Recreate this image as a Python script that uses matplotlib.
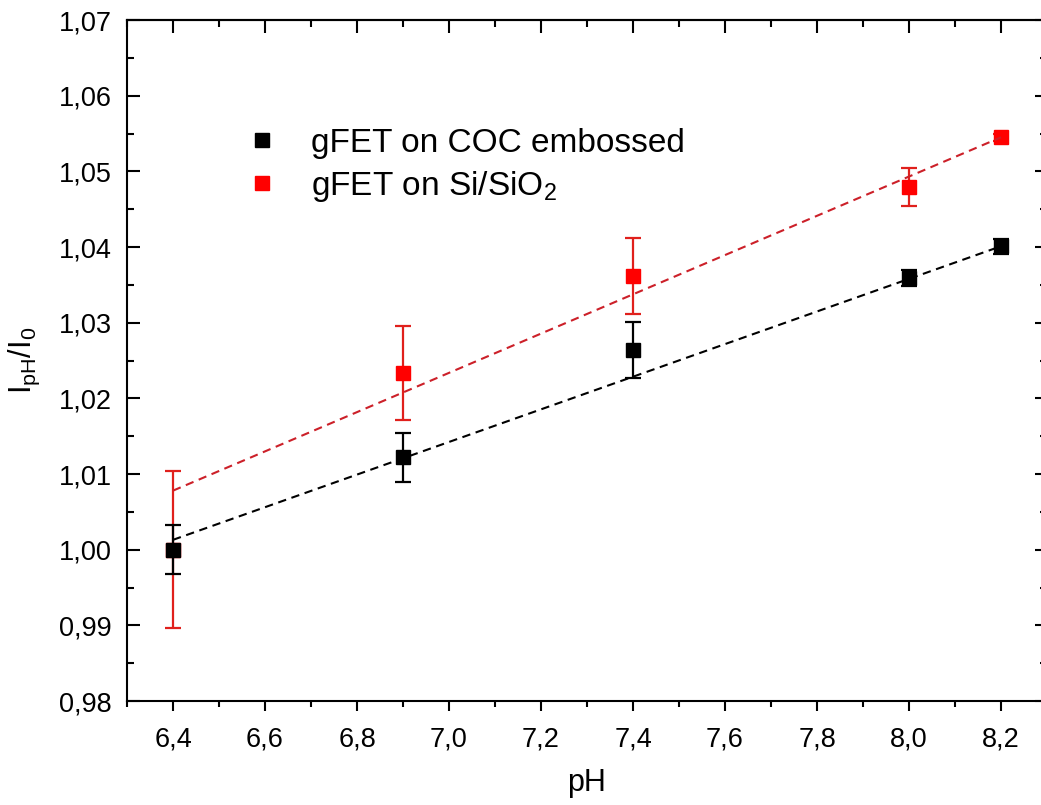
import numpy as np
import matplotlib
matplotlib.use('Agg')
import matplotlib.pyplot as plt
from matplotlib.ticker import MultipleLocator
from matplotlib.lines import Line2D

plt.rcParams['font.family'] = ['Liberation Sans', 'DejaVu Sans']
plt.rcParams['mathtext.fontset'] = 'custom'
plt.rcParams['mathtext.rm'] = 'Liberation Sans'

# data
ph = [6.4, 6.9, 7.4, 8.0, 8.2]
coc = [1.0000, 1.0122, 1.0264, 1.0359, 1.0401]
coc_err = [0.0032, 0.0032, 0.0037, 0.0010, 0.0010]
si = [1.0000, 1.0234, 1.0362, 1.0479, 1.0545]
si_err = [0.0104, 0.0062, 0.0050, 0.0025, 0.0005]
# linear fit end values (at pH 6.4 and 8.2)
fit_x = [6.4, 8.2]
fit_coc = [1.0013, 1.0401]
fit_si = [1.0078, 1.0545]
labels = ['gFET on COC embossed', 'gFET on Si/SiO$_2$']

fig = plt.figure(figsize=(10.41, 8.05), dpi=100)
ax = fig.add_axes([127/1041, 1 - 701/805, 920/1041, 681/805])

# red series first, black on top
ax.errorbar(ph, si, yerr=si_err, fmt='s', color='#ff0000', ecolor='#e0201c',
            ms=9.5, elinewidth=1.6, capsize=5.5, capthick=1.6, zorder=3)
ax.errorbar(ph, coc, yerr=coc_err, fmt='s', color='black', ecolor='black',
            ms=9.5, elinewidth=1.6, capsize=5.5, capthick=1.6, zorder=4)
ax.plot(fit_x, fit_si, color='#cc2029', lw=1.5, dashes=(4, 2.7), zorder=5)
ax.plot(fit_x, fit_coc, color='black', lw=1.5, dashes=(4, 2.7), zorder=5)

ax.set_xlim(6.3, 8.3)
ax.set_ylim(0.98, 1.07)
ax.xaxis.set_major_locator(MultipleLocator(0.2))
ax.xaxis.set_minor_locator(MultipleLocator(0.1))
ax.yaxis.set_major_locator(MultipleLocator(0.01))
ax.yaxis.set_minor_locator(MultipleLocator(0.005))
ax.xaxis.set_major_formatter(lambda v, p: ('%.1f' % v).replace('.', ','))
ax.yaxis.set_major_formatter(lambda v, p: ('%.2f' % v).replace('.', ','))

for s in ax.spines.values():
    s.set_linewidth(1.5)
ax.tick_params(axis='x', which='both', direction='out', top=False, labelsize=19.5, width=1.5, pad=11)
ax.tick_params(axis='x', which='major', length=7.5)
ax.tick_params(axis='x', which='minor', length=4.5)
ax.tick_params(axis='y', which='both', direction='in', right=True, labelsize=19.5, width=1.5, pad=11)
ax.tick_params(axis='y', which='major', length=9)
ax.tick_params(axis='y', which='minor', length=5)

# top axis ticks pointing inward
top = ax.secondary_xaxis('top')
top.xaxis.set_major_locator(MultipleLocator(0.2))
top.xaxis.set_minor_locator(MultipleLocator(0.1))
top.tick_params(axis='x', which='both', direction='in', labeltop=False, width=1.5)
top.tick_params(axis='x', which='major', length=9)
top.tick_params(axis='x', which='minor', length=5)
top.spines['top'].set_linewidth(1.5)

ax.set_xlabel('pH', fontsize=22, labelpad=11)
ax.set_ylabel('$\\mathregular{I_{pH}/I_0}$', fontsize=22, labelpad=12)

handles = [Line2D([], [], ls='none', marker='s', ms=9.5, color='black'),
           Line2D([], [], ls='none', marker='s', ms=9.5, color='#ff0000')]
ax.legend(handles, labels, loc='upper left', bbox_to_anchor=(0.129, 0.842), frameon=False,
          fontsize=24, handlelength=1.0, handletextpad=0.95, labelspacing=0.3, borderpad=0,
          borderaxespad=0)

fig.savefig('out.png', dpi=100)
